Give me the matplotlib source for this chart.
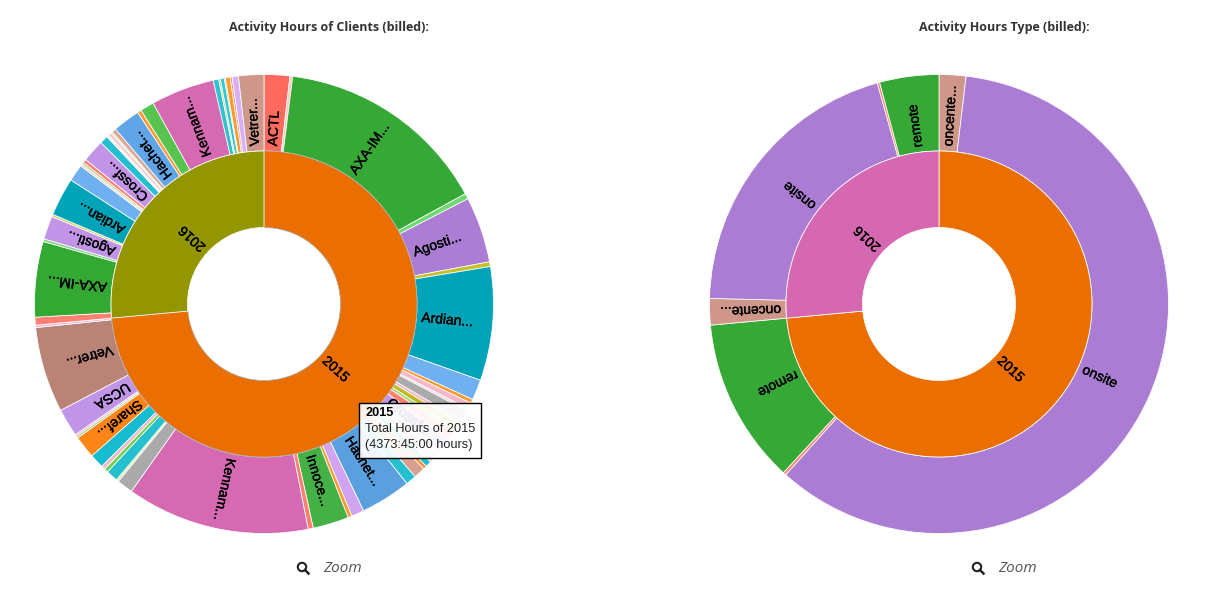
import matplotlib
matplotlib.use('Agg')
import matplotlib.pyplot as plt
import matplotlib.patheffects as pe
from matplotlib.lines import Line2D
from matplotlib.patches import Circle, Rectangle
from matplotlib.transforms import IdentityTransform
import numpy as np

W, H = 1207, 593

year_labels = ['2015', '2016']
clients_year_values = [264.7, 95.3]
clients_year_colors = ['#ea6e00', '#949600']
type_year_values = [264.7, 95.3]
type_year_colors = ['#ea6e00', '#d568b0']

client_labels = [
    'ACTL', '', 'AXA-IM...', '', 'Agosti...', '', 'Ardian...', '', '', '', '', '', '', '', '', '',
    'Crossf...', '', '', '', '', '', '', '', 'Hachet...', '', '', 'Innoce...', '', 'Kennam...', '',
    '', '', '', '', '', 'Sharef...', '', '', 'UCSA', 'Vetrer...', '',
    '', 'AXA-IM...', '', 'Agosti...', '', 'Ardian...', '', '', '', '', 'Crossf...', '', '', '', '', '',
    'Hachet...', '', '', 'Kennam...', '', '', '', '', '', '', '', 'Vetrer...',
]
client_values = [
    6.5, 0.7, 54.1, 1.4, 16.7, 1.2, 28.8, 5.2, 1.0, 1.6, 0.6, 2.7, 1.0, 1.5, 1.0, 2.0,
    4.0, 1.2, 1.0, 1.3, 1.5, 0.9, 2.9, 2.7, 12.8, 3.2, 1.0, 9.1, 1.3, 46.4, 4.1,
    0.6, 3.0, 1.0, 1.0, 3.6, 5.7, 0.5, 0.5, 7.1, 21.7, 0.6,
    2.0, 19.1, 0.7, 5.9, 0.6, 9.7, 4.3, 0.6, 0.5, 0.9, 5.7, 2.1, 0.6, 0.8, 0.4, 1.1,
    6.9, 1.0, 3.5, 16.1, 1.4, 0.4, 1.0, 0.3, 1.2, 0.5, 1.6, 6.4,
]
client_colors = [
    '#ff6a5f', '#ffc8c0', '#36a835', '#70d870', '#ab7dd4', '#c4c02a', '#00a3b8', '#6eb0f0',
    '#ff9a30', '#f5b8c8', '#e8d8e0', '#aaaaaa', '#f0b8c8', '#c0b820', '#a8d878', '#ff7f70',
    '#c294e8', '#e8dcc8', '#bcdc9c', '#f5c0d0', '#16bccf', '#ff9030', '#d9a090', '#25c0d0',
    '#5aa0de', '#d0a4f0', '#ff9a30', '#45b045', '#ff7f70', '#d56ab2', '#aaaaaa',
    '#dfe8b0', '#25c0d0', '#70d050', '#f0b8c8', '#16bccf', '#ff8518', '#90d070', '#f0b8c8',
    '#c094e6', '#b98376', '#eeb8d8',
    '#ff7f70', '#33a833', '#80d880', '#c294e8', '#d8d060', '#00a3b8', '#6eb0f0', '#f0d8d0',
    '#a8c870', '#ff7f70', '#c294e8', '#25c0d0', '#f5f0f0', '#f0c8d0', '#dcd890', '#d9a898',
    '#60a5e8', '#ff9a30', '#58c450', '#d56ab2', '#30c0d0', '#c8c840', '#30c8d8', '#58c450',
    '#ff9a30', '#ff8878', '#d8b0f8', '#cf9789',
]

type_labels = ['oncente...', 'onsite', '', 'remote', 'oncente...', 'onsite', '', 'remote']
type_values = [6.8, 215.1, 0.8, 42.0, 6.7, 73.0, 0.6, 15.0]
type_colors = ['#cf9789', '#aa7cd4', '#ff8878', '#36a835', '#cf9789', '#aa7cd4', '#ff8878', '#36a835']


def fig_xy(x, y):
    return x / W, 1 - y / H


def add_labels(ax, wedges, labels, r0):
    for wedge, label in zip(wedges, labels):
        if not label:
            continue
        mid = np.deg2rad((wedge.theta1 + wedge.theta2) / 2)
        r = r0 + 5 / 229.5
        ax.text(r * np.cos(mid), r * np.sin(mid), label, rotation=np.rad2deg(mid),
                rotation_mode='anchor', ha='left', va='center', fontsize=10,
                family='Liberation Sans', color='black',
                path_effects=[pe.withStroke(linewidth=0.25, foreground='black')])


def sunburst(cx, cy, year_values, year_colors, values, colors, labels, year_edge):
    half = 229.5 * 1.1
    ax = fig.add_axes([(cx - half) / W, 1 - (cy + half) / H, 2 * half / W, 2 * half / H])
    outer, _ = ax.pie(values, colors=colors, radius=1, startangle=90, counterclock=False,
                      wedgeprops=dict(width=1 / 3, edgecolor='white', linewidth=0.55))
    inner, _ = ax.pie(year_values, colors=year_colors, radius=2 / 3, startangle=90, counterclock=False,
                      wedgeprops=dict(width=1 / 3, edgecolor='white', linewidth=0.55))
    inner[0].set_edgecolor(year_edge)
    ax.set_xlim(-1.1, 1.1)
    ax.set_ylim(-1.1, 1.1)
    ax.set_aspect('equal')
    add_labels(ax, outer, labels, 2 / 3)
    add_labels(ax, inner, year_labels, 1 / 3)


def zoom_link(x, y):
    px, py = x, H - y
    fig.add_artist(Circle((px, py + 1), 4.2, fill=False, edgecolor='#222222', linewidth=1.5,
                          transform=IdentityTransform()))
    fig.add_artist(Line2D([px + 3, px + 6.5], [py - 2, py - 5.5], color='#222222', linewidth=1.8,
                          transform=IdentityTransform()))
    fig.text(*fig_xy(x + 21, y + 1), 'Zoom', family='Open Sans', style='italic', fontsize=11,
             color='#555555', ha='left', va='center')


fig = plt.figure(figsize=(W / 100, H / 100), dpi=100, facecolor='white')

sunburst(264, 304, clients_year_values, clients_year_colors, client_values, client_colors,
         client_labels, '#a8a8a8')
sunburst(939, 304, type_year_values, type_year_colors, type_values, type_colors,
         type_labels, 'white')

fig.text(*fig_xy(329, 27), 'Activity Hours of Clients (billed):', family='Open Sans', weight='bold',
         fontsize=9.0, color='#333333', ha='center', va='center')
fig.text(*fig_xy(1004, 27), 'Activity Hours Type (billed):', family='Open Sans', weight='bold',
         fontsize=9.0, color='#333333', ha='center', va='center')

zoom_link(302, 568)
zoom_link(977, 568)

# hover tooltip sits over the left chart
x0, y0 = fig_xy(359.5, 458)
x1, y1 = fig_xy(481.5, 403)
fig.add_artist(Rectangle((x0, y0), x1 - x0, y1 - y0, transform=fig.transFigure, facecolor=(1, 1, 1, 0.92),
                         edgecolor='black', linewidth=1, zorder=10))
fig.text(*fig_xy(365, 413), '2015', family='Liberation Sans', weight='bold', fontsize=9.2,
         color='black', va='center', zorder=11)
fig.text(*fig_xy(365, 429), 'Total Hours of 2015', family='Liberation Sans', fontsize=9.2,
         color='#222222', va='center', zorder=11)
fig.text(*fig_xy(365, 445), '(4373:45:00 hours)', family='Liberation Sans', fontsize=9.2,
         color='#222222', va='center', zorder=11)

fig.savefig('out.png', dpi=100)
